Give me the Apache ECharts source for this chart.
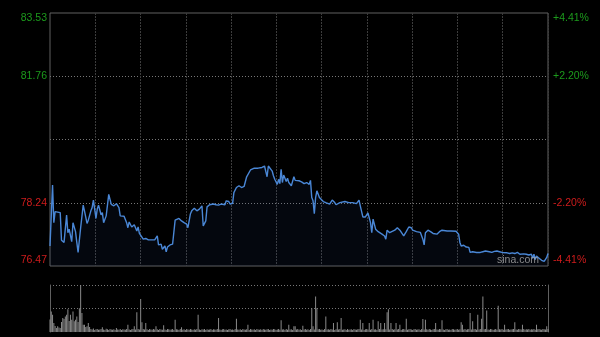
<!DOCTYPE html>
<html>
<head>
<meta charset="utf-8">
<script src="https://cdn.jsdelivr.net/npm/echarts@6/dist/echarts.min.js"></script>
<style>
html,body{margin:0;padding:0;background:#000;}
#c{width:600px;height:337px;}
</style>
</head>
<body>
<div id="c"></div>
<script>
// ---- data ----
const prevClose = 80.00;
const sessionMinutes = 390;
const leftTickLabels = ['76.47', '78.24', '', '81.76', '83.53'];
const rightTickLabels = ['-4.41%', '-2.20%', '', '+2.20%', '+4.41%'];
const axisMinPct = -4.41;
const axisMaxPct = 4.41;

const minutes = [0,2,3,4,8,9,11,13,14,15,17,18,20,21,22,24,26,27,29,30,32,33,34,36,37,38,40,41,42,44,46,47,48,50,52,54,55,56,58,60,61,62,64,65,66,68,69,70,71,73,75,77,82,84,85,87,88,90,91,92,94,96,98,99,101,103,105,107,108,110,111,113,115,117,118,119,120,122,123,125,128,130,
132,134,137,138,140,141,143,144,146,148,150,152,154,155,157,160,163,164,166,168,170,171,172,174,175,176,178,179,180,181,182,183,185,186,187,189,191,192,195,197,199,201,203,204,205,206,207,208,209,211,212,214,216,219,221,223,224,227,228,231,234,237,240,242,243,245,247,249,250,251,252,253,255,257,260,262,
263,264,266,267,270,272,274,275,277,279,281,283,284,287,288,290,291,292,293,294,296,298,300,301,303,305,306,307,311,314,318,320,321,322,324,326,328,329,331,334,335,337,339,341,342,344,346,348,350,352,354,358,360,362,364,366,368,371,373,375,377,378,379,380,381,383,385,387,388,389,390];

const prices = [77.03,78.73,77.68,77.99,77.96,77.19,77.13,77.89,77.40,77.50,77.15,77.68,77.43,77.13,76.85,77.54,78.17,78.01,77.66,77.75,78.01,78.10,78.31,77.80,78.06,78.17,77.90,77.96,77.68,77.87,78.47,78.33,78.19,78.15,78.21,78.10,77.87,77.82,77.86,77.68,77.54,77.70,77.56,77.52,77.62,77.45,77.56,77.38,77.40,77.22,77.24,77.20,77.20,77.31,77.06,77.08,76.94,77.03,76.87,77.00,77.06,77.08,77.75,77.75,77.80,77.73,77.68,77.64,77.54,77.93,78.01,78.08,78.01,78.06,78.03,78.15,77.59,77.73,78.12,78.18,78.20,78.18,
78.17,78.20,78.18,78.29,78.27,78.20,78.22,78.52,78.66,78.71,78.66,78.69,78.96,79.01,79.15,79.20,79.20,79.15,79.22,79.26,78.96,79.26,79.31,79.12,78.99,78.89,78.75,78.89,78.77,79.17,78.80,79.01,78.83,78.92,78.80,78.71,78.96,78.86,78.85,78.82,78.77,78.80,78.75,78.86,78.38,78.29,77.93,78.38,78.57,78.38,78.43,78.27,78.24,78.20,78.31,78.24,78.18,78.24,78.21,78.27,78.24,78.24,78.21,78.31,78.15,77.84,77.84,77.95,77.93,77.68,77.40,77.78,77.50,77.43,77.36,77.31,
77.22,77.47,77.40,77.45,77.47,77.54,77.47,77.42,77.31,77.43,77.56,77.54,77.47,77.43,77.45,77.41,77.36,77.22,77.06,77.40,77.47,77.43,77.38,77.40,77.36,77.43,77.38,77.47,77.45,77.45,77.44,77.36,77.13,77.03,77.05,77.00,76.99,76.85,76.87,76.85,76.89,76.85,76.87,76.89,76.94,76.87,76.85,76.88,76.89,76.87,76.85,76.84,76.82,76.84,76.82,76.85,76.80,76.81,76.80,76.78,76.80,76.69,76.80,76.65,76.75,76.69,76.63,76.60,76.56,76.71,76.82];

// one volume bar per minute (hundreds of shares)
const volumes = [
250,414,346,180,120,80,114,90,80,200,
280,260,314,346,460,220,346,246,414,214,
246,314,200,480,946,380,146,146,100,114,
180,100,60,50,70,40,55,60,45,50,
60,94,50,40,65,55,40,60,50,45,
55,40,80,50,45,60,40,55,50,45,
60,146,50,40,55,60,114,50,400,60,
50,666,194,60,50,180,55,40,60,50,
45,60,50,114,55,40,60,50,45,134,
50,40,60,55,45,50,60,40,246,55,
50,40,60,94,45,55,40,60,50,45,
60,50,40,55,45,60,346,50,40,55,
50,60,40,55,45,50,60,40,55,50,
45,60,280,50,40,55,60,45,50,40,
55,60,45,50,40,60,266,50,45,55,
40,60,50,45,55,146,40,60,50,45,
55,40,60,50,45,55,40,60,50,45,
55,60,40,50,45,60,55,40,50,60,
45,234,50,55,40,60,45,146,50,55,
40,114,114,50,60,45,55,40,126,50,
60,45,55,40,60,480,114,50,714,480,
55,60,45,50,40,60,314,50,55,45,
60,50,180,40,55,194,50,60,280,45,
50,55,40,60,45,50,55,40,60,50,
45,55,60,246,50,180,40,55,60,50,
180,45,60,246,50,55,40,214,60,180,
50,55,180,55,400,460,50,180,60,45,
55,180,50,60,146,40,55,60,50,266,
45,55,60,50,40,55,60,45,50,55,
40,60,260,50,246,55,45,60,50,40,
55,60,180,50,45,60,55,234,50,40,
55,60,45,50,40,60,55,45,50,60,
45,55,194,146,50,60,45,55,60,380,
50,214,55,60,45,346,50,60,266,714,
55,60,434,50,45,60,55,40,50,60,
45,526,55,50,60,45,146,50,55,60,
45,50,55,60,194,50,45,60,55,50,
146,60,45,55,50,60,45,55,50,60,
45,146,55,60,50,45,60,55,50,114,
60];

// ---- chart ----
const linePts = minutes.map((m, i) => [m, (prices[i] / prevClose - 1) * 100]);
const volPts = volumes.map((v, i) => [i, v]);
const volMax = Math.max.apply(null, volumes);

const GREEN = '#1c9a1c', RED = '#d01c1c';
const FONT = 'Liberation Sans';
const hDash = { color: '#777', width: 1, type: [1, 2] };
const vDash = { color: '#3c3c3c', width: 1, type: [2, 1] };

const chart = echarts.init(document.getElementById('c'), null, { renderer: 'canvas' });
chart.setOption({
  backgroundColor: '#000',
  animation: false,
  grid: [
    { left: 50, right: 52, top: 13, height: 253, show: true, borderColor: '#606060', borderWidth: 1, backgroundColor: 'transparent' },
    { left: 50, right: 52, top: 285, height: 47, show: false }
  ],
  xAxis: [
    { type: 'value', gridIndex: 0, min: 0, max: sessionMinutes, interval: sessionMinutes / 11,
      axisLine: { show: false }, axisTick: { show: false }, axisLabel: { show: false },
      splitLine: { show: true, lineStyle: vDash, showMinLine: false, showMaxLine: false } },
    { type: 'value', gridIndex: 1, min: 0, max: sessionMinutes,
      axisLine: { show: false }, axisTick: { show: false }, axisLabel: { show: false },
      splitLine: { show: false } }
  ],
  yAxis: [
    { type: 'value', gridIndex: 0, position: 'left', min: axisMinPct, max: axisMaxPct, interval: axisMaxPct / 2,
      axisLine: { show: false }, axisTick: { show: false },
      axisLabel: { show: true, margin: 3, fontSize: 10.5, fontFamily: FONT,
        verticalAlignMinLabel: 'bottom', verticalAlignMaxLabel: 'top',
        formatter: (v, i) => leftTickLabels[i],
        color: (v, i) => (Number(v) < 0 ? RED : GREEN) },
      splitLine: { show: true, lineStyle: hDash, showMinLine: false, showMaxLine: false } },
    { type: 'value', gridIndex: 0, position: 'right', min: axisMinPct, max: axisMaxPct, interval: axisMaxPct / 2,
      axisLine: { show: false }, axisTick: { show: false },
      axisLabel: { show: true, margin: 5, fontSize: 10.5, fontFamily: FONT,
        verticalAlignMinLabel: 'bottom', verticalAlignMaxLabel: 'top',
        formatter: (v, i) => rightTickLabels[i],
        color: (v, i) => (Number(v) < 0 ? RED : GREEN) },
      splitLine: { show: false } },
    { type: 'value', gridIndex: 1, position: 'left', min: 0, max: volMax, interval: volMax / 2,
      axisLine: { show: true, lineStyle: { color: '#606060', width: 1 } }, axisTick: { show: false },
      axisLabel: { show: false },
      splitLine: { show: true, lineStyle: hDash, showMinLine: false } },
    { type: 'value', gridIndex: 1, position: 'right', min: 0, max: volMax, interval: volMax / 2,
      axisLine: { show: true, lineStyle: { color: '#606060', width: 1 } }, axisTick: { show: false },
      axisLabel: { show: false }, splitLine: { show: false } }
  ],
  series: [
    { type: 'line', xAxisIndex: 0, yAxisIndex: 0, data: linePts, showSymbol: false, symbol: 'none',
      lineStyle: { color: '#4a87d6', width: 1.4 },
      areaStyle: { origin: 'start', color: 'rgba(45,80,150,0.13)' },
      z: 3 },
    { type: 'bar', xAxisIndex: 1, yAxisIndex: 2, data: volPts, barWidth: 1,
      itemStyle: { color: '#8a8a8a' } }
  ],
  graphic: [
    { type: 'text', left: 497, top: 255, z: 10,
      style: { text: 'sina.com', fill: 'rgba(170,170,170,0.8)', font: '10.5px "Liberation Sans"' } }
  ]
});
</script>
</body>
</html>
